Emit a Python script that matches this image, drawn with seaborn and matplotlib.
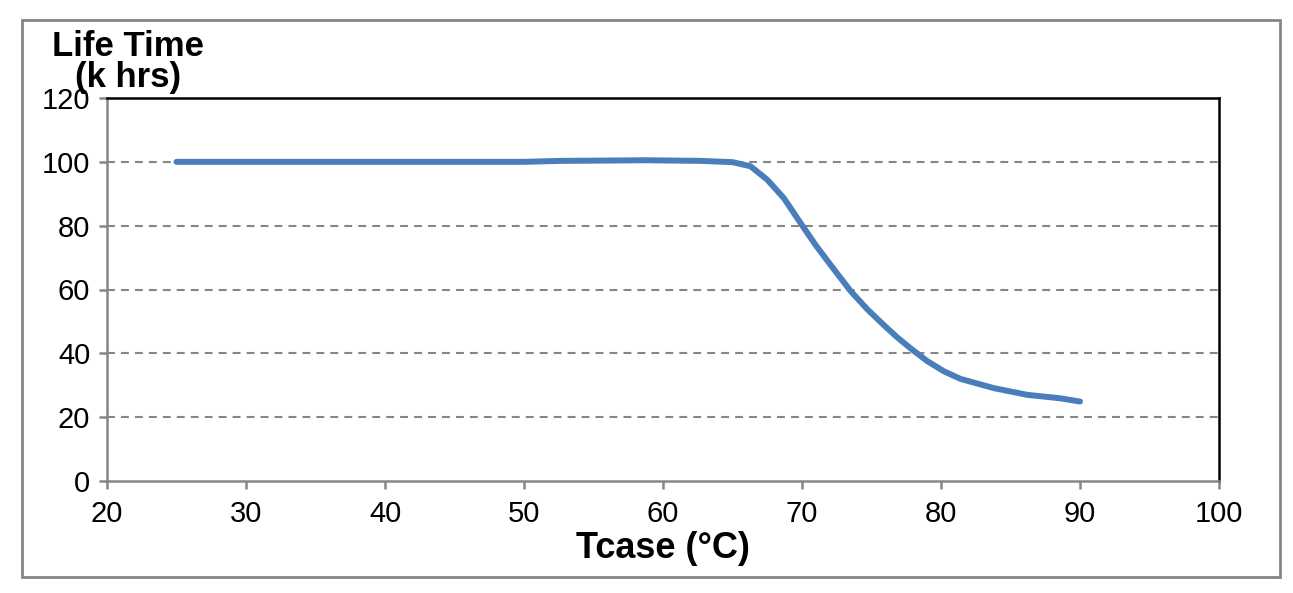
import pandas as pd
import matplotlib.pyplot as plt
import seaborn as sns
from matplotlib.patches import Rectangle

# values
tcase = [25, 30, 40, 50, 52.6, 56, 58.7, 62.7, 65.0, 66.3, 67.5, 68.7, 69.9, 71.0,
         72.3, 73.5, 74.7, 75.9, 76.8, 77.8, 79.0, 80.2, 81.4, 83.8, 86.2, 88.6, 90]
life_khrs = [100, 100, 100, 100, 100.3, 100.4, 100.5, 100.3, 99.9, 98.6, 94.4, 88.6, 80.8, 73.8,
             66.3, 59.5, 53.8, 48.8, 45.2, 41.6, 37.6, 34.4, 32.0, 29.1, 27.0, 25.9, 24.9]

x_ticks = [20, 30, 40, 50, 60, 70, 80, 90, 100]
y_ticks = [0, 20, 40, 60, 80, 100, 120]


def plot_life_time():
    df = pd.DataFrame({'Tcase': tcase, 'Life': life_khrs})

    sns.set_theme(style="white")
    plt.rcParams['font.family'] = ['Liberation Sans', 'DejaVu Sans']
    plt.rcParams['text.color'] = 'black'

    fig = plt.figure(figsize=(12.93, 5.93), dpi=100)
    ax = fig.add_axes([107 / 1293, 1 - 481 / 593, (1219 - 107) / 1293, (481 - 98) / 593])

    grey = '#868686'
    for y in y_ticks[1:-1]:
        ax.axhline(y, color=grey, lw=1.5, dashes=(3.8, 2.9), zorder=1)

    sns.lineplot(data=df, x='Tcase', y='Life', color='#4a7ebb', lw=4.3,
                 solid_capstyle='round', solid_joinstyle='round', ax=ax, zorder=3)

    ax.set_xlim(20, 100)
    ax.set_ylim(0, 120)
    ax.set_xticks(x_ticks)
    ax.set_yticks(y_ticks)
    ax.tick_params(axis='both', which='major', labelsize=21, colors=grey,
                   labelcolor='black', length=6, width=1.8, direction='out',
                   left=True, bottom=True, pad=8)
    ax.tick_params(axis='y', pad=6)

    for side in ['left', 'bottom']:
        ax.spines[side].set_color(grey)
        ax.spines[side].set_linewidth(1.8)
    for side in ['top', 'right']:
        ax.spines[side].set_color('black')
        ax.spines[side].set_linewidth(1.8)

    ax.set_xlabel('Tcase (°C)', fontsize=26, fontweight='bold', labelpad=2, color='black')
    ax.set_ylabel('')

    fig.text(128 / 1293, 1 - 46 / 593, 'Life Time', fontsize=25, fontweight='bold',
             ha='center', va='center', color='black')
    fig.text(128 / 1293, 1 - 78 / 593, '(k hrs)', fontsize=25, fontweight='bold',
             ha='center', va='center', color='black')

    # outer chart frame
    fig.patches.append(Rectangle((22 / 1293, 1 - 577 / 593), (1280 - 22) / 1293,
                                 (577 - 20) / 593, transform=fig.transFigure,
                                 fill=False, edgecolor=grey, lw=2))

    fig.savefig('out.png', dpi=100)


if __name__ == "__main__":
    plot_life_time()
